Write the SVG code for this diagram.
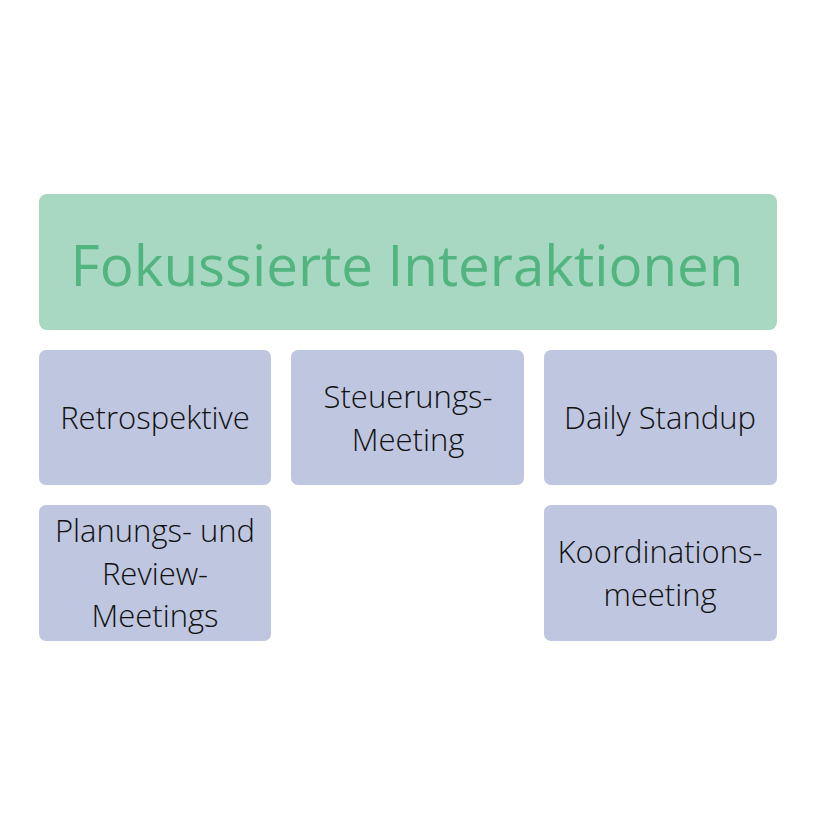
<svg xmlns="http://www.w3.org/2000/svg" width="816" height="836" viewBox="0 0 816 836">
<style>
.hdr{fill:#a8d8c1}
.box{fill:#bfc6df}
.t{font-family:"Open Sans","Noto Sans",sans-serif;font-weight:300;font-size:31px;fill:#111;text-anchor:middle}
.title{font-family:"Open Sans","Noto Sans",sans-serif;font-weight:400;font-size:56.5px;fill:#52b57f;text-anchor:middle}
</style>
<rect width="816" height="836" fill="#fff"/>
<g id="header"><rect class="hdr" x="39" y="194" width="738" height="136" rx="8"/><text class="title" x="407" y="286">Fokussierte Interaktionen</text></g>
<g id="retro"><rect class="box" x="39" y="350" width="232" height="135" rx="7"/><text class="t" x="155" y="429">Retrospektive</text></g>
<g id="steuer"><rect class="box" x="291" y="350" width="233" height="135" rx="7"/><text class="t" x="408" y="408">Steuerungs-</text><text class="t" x="408" y="451">Meeting</text></g>
<g id="daily"><rect class="box" x="544" y="350" width="233" height="135" rx="7"/><text class="t" x="660" y="429">Daily Standup</text></g>
<g id="planung"><rect class="box" x="39" y="505" width="232" height="136" rx="7"/><text class="t" x="155" y="542">Planungs- und</text><text class="t" x="155" y="585">Review-</text><text class="t" x="155" y="627">Meetings</text></g>
<g id="koord"><rect class="box" x="544" y="505" width="233" height="136" rx="7"/><text class="t" x="660" y="563">Koordinations-</text><text class="t" x="660" y="606">meeting</text></g>
<g id="connectors"></g>
</svg>
